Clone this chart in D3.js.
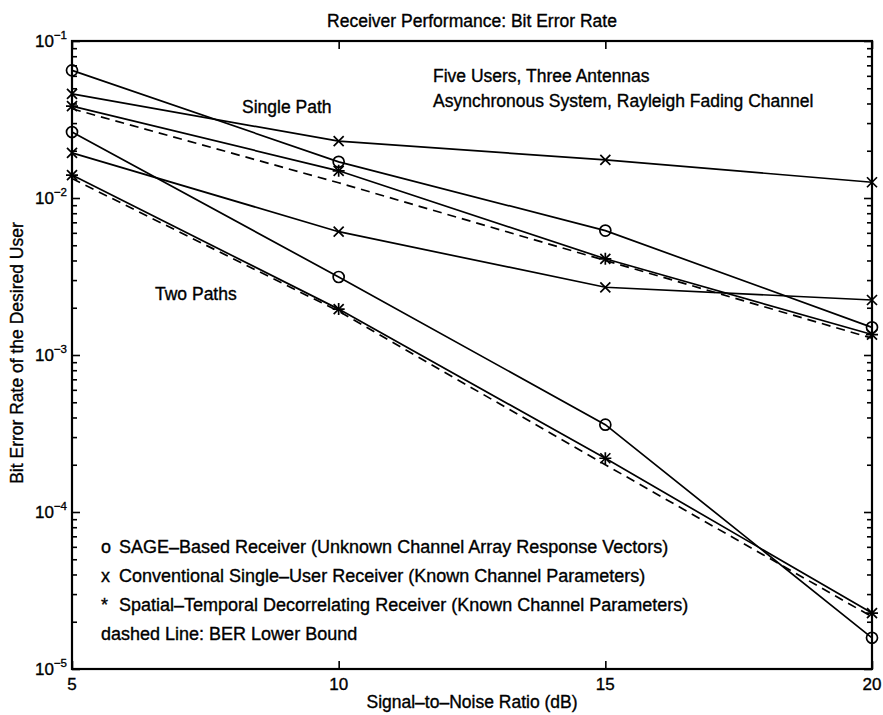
<!DOCTYPE html>
<html>
<head>
<meta charset="utf-8">
<script src="https://cdn.jsdelivr.net/npm/d3@7"></script>
<style>
  body { margin: 0; background: #fff; }
  text { font-family: "Liberation Sans", Arial, Helvetica, sans-serif; fill: #000; stroke: #000; stroke-width: 0.35px; }
</style>
</head>
<body>
<div id="chart"></div>
<script>
const snr = [5, 10, 15, 20];

// single path
const sageSingle = [0.065, 0.017, 0.0062, 0.0015];
const convSingle = [0.046, 0.023, 0.0175, 0.0126];
const decorSingle = [0.0385, 0.0149, 0.0041, 0.00135];
const boundSingle = [0.037, 0.0125, 0.0040, 0.00128];

// two paths
const sageTwo = [0.0263, 0.00314, 0.00036, 0.0000158];
const convTwo = [0.0194, 0.0061, 0.0027, 0.00224];
const decorTwo = [0.0140, 0.00196, 0.00022, 0.0000227];
const boundTwo = [0.0133, 0.0019, 0.00020, 0.0000215];

const xTicks = [5, 10, 15, 20];
const yMajor = [1e-5, 1e-4, 1e-3, 1e-2, 1e-1];
const yExp = ["−5", "−4", "−3", "−2", "−1"];

const legendLines = [
  {mark: "o", label: "SAGE–Based Receiver (Unknown Channel Array Response Vectors)"},
  {mark: "x", label: "Conventional Single–User Receiver (Known Channel Parameters)"},
  {mark: "*", label: "Spatial–Temporal Decorrelating Receiver (Known Channel Parameters)"},
  {mark: "", label: "dashed Line: BER Lower Bound"}
];

const series = [
  {values: sageSingle, marker: "o", dashed: false},
  {values: convSingle, marker: "x", dashed: false},
  {values: decorSingle, marker: "*", dashed: false},
  {values: boundSingle, marker: null, dashed: true},
  {values: sageTwo, marker: "o", dashed: false},
  {values: convTwo, marker: "x", dashed: false},
  {values: decorTwo, marker: "*", dashed: false},
  {values: boundTwo, marker: null, dashed: true}
];

const W = 883, H = 715;
const plotL = 72, plotR = 872, plotT = 41, plotB = 669;

const svg = d3.select("#chart").append("svg")
  .attr("width", W)
  .attr("height", H);

svg.append("rect").attr("width", W).attr("height", H).attr("fill", "#fff");

const x = d3.scaleLinear().domain([5, 20]).range([plotL, plotR]);
const y = d3.scaleLog().domain([1e-5, 1e-1]).range([plotB, plotT]);

// minor ticks for log axis
const yMinor = [];
yMajor.slice(0, -1).forEach(d => {
  for (let k = 2; k <= 9; k++) yMinor.push(d * k);
});

function styleAxis(g) {
  g.select(".domain").remove();
  g.selectAll(".tick line").attr("stroke", "#000").attr("stroke-width", 1.6);
  g.selectAll(".tick text").remove();
}

svg.append("g").attr("transform", `translate(${plotL},0)`)
  .call(d3.axisLeft(y).tickValues(yMajor).tickSize(-8).tickSizeOuter(0)).call(styleAxis);
svg.append("g").attr("transform", `translate(${plotL},0)`)
  .call(d3.axisLeft(y).tickValues(yMinor).tickSize(-5).tickSizeOuter(0)).call(styleAxis);
svg.append("g").attr("transform", `translate(${plotR},0)`)
  .call(d3.axisRight(y).tickValues(yMajor).tickSize(-8).tickSizeOuter(0)).call(styleAxis);
svg.append("g").attr("transform", `translate(${plotR},0)`)
  .call(d3.axisRight(y).tickValues(yMinor).tickSize(-5).tickSizeOuter(0)).call(styleAxis);
svg.append("g").attr("transform", `translate(0,${plotB})`)
  .call(d3.axisBottom(x).tickValues(xTicks).tickSize(-8).tickSizeOuter(0)).call(styleAxis);
svg.append("g").attr("transform", `translate(0,${plotT})`)
  .call(d3.axisTop(x).tickValues(xTicks).tickSize(-8).tickSizeOuter(0)).call(styleAxis);

// frame
svg.append("rect")
  .attr("x", plotL).attr("y", plotT)
  .attr("width", plotR - plotL).attr("height", plotB - plotT)
  .attr("fill", "none").attr("stroke", "#000").attr("stroke-width", 2.2);

// y tick labels
const yl = svg.selectAll(".ylab").data(yMajor).enter().append("text")
  .attr("class", "ylab")
  .attr("text-anchor", "end")
  .attr("x", 67)
  .attr("y", d => y(d) + 6)
  .style("font-size", "17px");
yl.append("tspan").text("10");
yl.append("tspan").attr("dy", -8).style("font-size", "11.5px").text((d, i) => yExp[i]);

// x tick labels
svg.selectAll(".xlab").data(xTicks).enter().append("text")
  .attr("class", "xlab")
  .attr("text-anchor", "middle")
  .attr("x", d => x(d))
  .attr("y", 690)
  .style("font-size", "17px")
  .text(d => d);

// lines
const line = d3.line().x((d, i) => x(snr[i])).y(d => y(d));

svg.selectAll(".series").data(series).enter().append("path")
  .attr("class", "series")
  .attr("d", d => line(d.values))
  .attr("fill", "none")
  .attr("stroke", "#000")
  .attr("stroke-width", 1.7)
  .attr("stroke-dasharray", d => d.dashed ? "9,6" : null);

// markers
const pts = [];
series.forEach(s => {
  if (s.marker) s.values.forEach((v, i) => pts.push({x: snr[i], v: v, m: s.marker}));
});

const mk = svg.selectAll(".mk").data(pts).enter().append("g")
  .attr("class", "mk")
  .attr("transform", d => `translate(${x(d.x)},${y(d.v)})`);

mk.filter(d => d.m === "o").append("circle")
  .attr("r", 5.5).attr("fill", "none").attr("stroke", "#000").attr("stroke-width", 1.7);

mk.filter(d => d.m === "x" || d.m === "*").append("path")
  .attr("d", "M-5,-5L5,5M-5,5L5,-5")
  .attr("stroke", "#000").attr("stroke-width", 1.7);

mk.filter(d => d.m === "*").append("path")
  .attr("d", "M-6,0L6,0M0,-6L0,6")
  .attr("stroke", "#000").attr("stroke-width", 1.7);

// title and axis labels
svg.append("text")
  .attr("x", 472).attr("y", 27)
  .attr("text-anchor", "middle")
  .style("font-size", "17.5px")
  .text("Receiver Performance: Bit Error Rate");

svg.append("text")
  .attr("x", 472).attr("y", 708)
  .attr("text-anchor", "middle")
  .style("font-size", "17.5px")
  .text("Signal–to–Noise Ratio (dB)");

svg.append("text")
  .attr("transform", "rotate(-90)")
  .attr("x", -353).attr("y", 23)
  .attr("text-anchor", "middle")
  .style("font-size", "17.5px")
  .text("Bit Error Rate of the Desired User");

// annotations
const notes = [
  {t: "Single Path", x: 242, y: 113},
  {t: "Two Paths", x: 155, y: 300},
  {t: "Five Users, Three Antennas", x: 433, y: 82},
  {t: "Asynchronous System, Rayleigh Fading Channel", x: 433, y: 107}
];
svg.selectAll(".note").data(notes).enter().append("text")
  .attr("class", "note")
  .attr("x", d => d.x).attr("y", d => d.y)
  .style("font-size", "17.5px")
  .text(d => d.t);

// legend text
const lg = svg.selectAll(".lg").data(legendLines).enter().append("g")
  .attr("class", "lg")
  .attr("transform", (d, i) => `translate(0,${553 + i * 29})`);
lg.append("text").attr("x", 101).style("font-size", "18px").text(d => d.mark);
lg.append("text").attr("x", d => d.mark ? 119 : 101).style("font-size", "18px").text(d => d.label);
</script>
</body>
</html>
